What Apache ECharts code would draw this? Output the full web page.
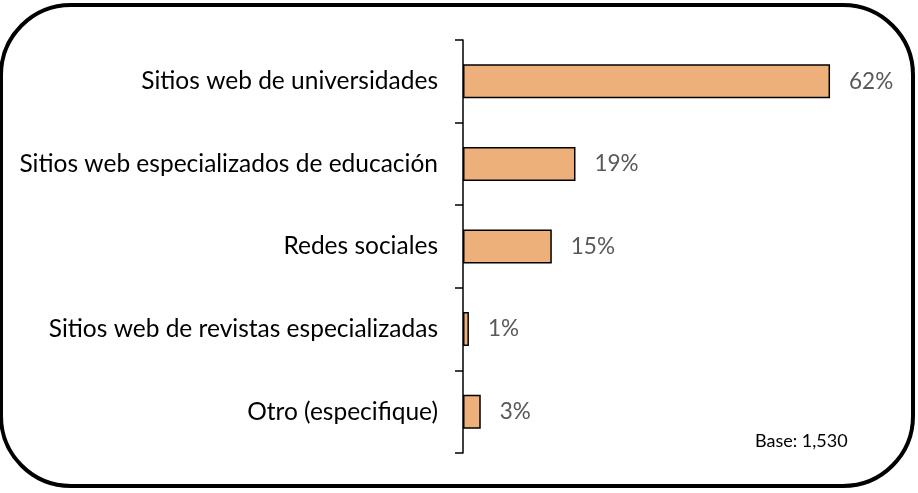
<!DOCTYPE html>
<html><head><meta charset="utf-8">
<script src="https://cdn.jsdelivr.net/npm/echarts@6/dist/echarts.min.js"></script>
<style>html,body{margin:0;padding:0;background:#fff}#c{width:918px;height:493px}</style>
</head><body><div id="c"></div>
<script>
const categories = ["Sitios web de universidades","Sitios web especializados de educación","Redes sociales","Sitios web de revistas especializadas","Otro (especifique)"];
const values = [62, 19, 15, 1, 3];
const baseNote = "Base: 1,530";

const chart = echarts.init(document.getElementById('c'), null, {renderer:'canvas'});
const FONT = 'Lato';
chart.setOption({
  backgroundColor: '#ffffff',
  animation: false,
  graphic: [
    {type:'rect', shape:{x:1, y:5, width:912, height:481, r:70}, style:{fill:'none', stroke:'#000', lineWidth:4}, z:10},
    {type:'text', left:755, top:432, style:{text:baseNote, font:'18px '+FONT, fill:'#000'}}
  ],
  grid: {left:463, top:40, width:414.4, height:413},
  xAxis: {type:'value', min:0, max:70, show:false},
  yAxis: {
    type:'category', data:categories, inverse:true,
    axisLine:{show:true, lineStyle:{color:'#000', width:1.5}},
    axisTick:{show:true, length:8, lineStyle:{color:'#000', width:1.5}},
    axisLabel:{color:'#000', fontSize:24.5, fontFamily:FONT, margin:25}
  },
  series: [{
    type:'bar', data:values, barWidth:34,
    itemStyle:{color:'#EEB07A', borderColor:'#000', borderWidth:1.5},
    label:{show:true, position:'right', distance:19, formatter:'{c}%', color:'#595959', fontSize:22.5, fontFamily:FONT}
  }]
});
</script></body></html>
